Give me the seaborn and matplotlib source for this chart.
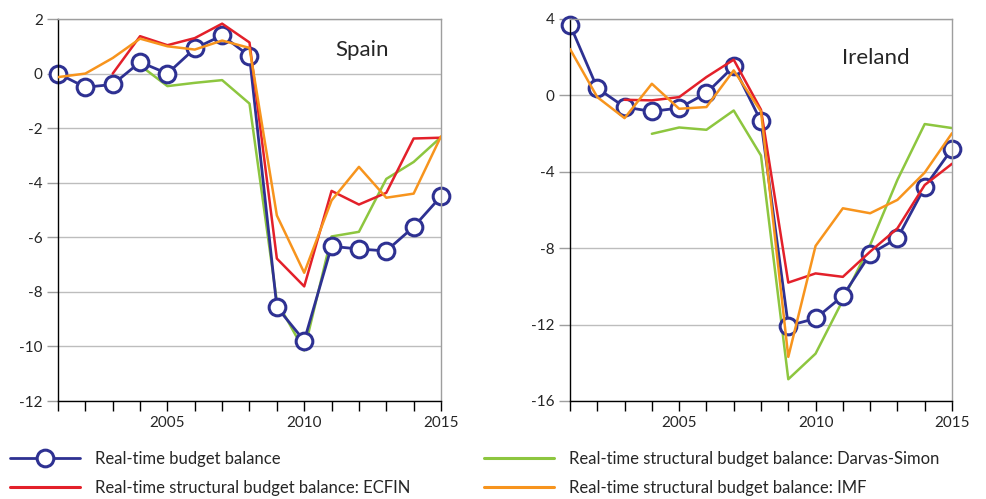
import numpy as np
import pandas as pd
import matplotlib
matplotlib.use("Agg")
import matplotlib.pyplot as plt
import seaborn as sns
from matplotlib.lines import Line2D

# ----------------------------
# Dados
# ----------------------------
years = list(range(2001, 2016))
nan = np.nan

spain_rt = [0.0, -0.5, -0.4, 0.42, 0.0, 0.92, 1.4, 0.64, -8.56, -9.79, -6.33, -6.43, -6.5, -5.62, -4.5]
spain_ecfin = [nan, nan, 0.0, 1.37, 1.04, 1.3, 1.83, 1.14, -6.78, -7.8, -4.3, -4.8, -4.37, -2.38, -2.35]
spain_imf = [-0.13, 0.0, 0.57, 1.28, 1.0, 0.88, 1.21, 0.94, -5.2, -7.3, -4.65, -3.42, -4.55, -4.4, -2.3]
spain_ds = [nan, nan, nan, 0.3, -0.46, -0.34, -0.24, -1.1, -8.35, -10.15, -5.97, -5.8, -3.86, -3.24, -2.33]

ireland_rt = [3.7, 0.38, -0.61, -0.84, -0.66, 0.12, 1.52, -1.36, -12.06, -11.68, -10.5, -8.3, -7.48, -4.8, -2.8]
ireland_ecfin = [nan, nan, -0.23, -0.26, -0.09, 0.96, 1.87, -0.75, -9.8, -9.32, -9.5, -8.18, -6.96, -4.69, -3.58]
ireland_imf = [2.43, -0.09, -1.19, 0.61, -0.7, -0.61, 1.31, -0.84, -13.69, -7.88, -5.91, -6.17, -5.47, -4.04, -1.98]
ireland_ds = [nan, nan, nan, -2.01, -1.68, -1.8, -0.79, -3.15, -14.86, -13.52, -10.72, -7.83, -4.42, -1.5, -1.71]

series_names = [
    "Real-time budget balance",
    "Real-time structural budget balance: ECFIN",
    "Real-time structural budget balance: Darvas-Simon",
    "Real-time structural budget balance: IMF",
]
colors = {
    series_names[0]: "#2E3192",
    series_names[1]: "#E3202A",
    series_names[2]: "#8DC63F",
    series_names[3]: "#F7941D",
}

spain_yticks = [2, 0, -2, -4, -6, -8, -10, -12]
spain_ylabels = ["2", "0", "-2", "-4", "-6", "-8", "-10", "-12"]
ireland_yticks = [4, 0, -4, -8, -12, -16]
ireland_ylabels = ["4", "0", "-4", "-8", "-12", "-16"]
xtick_labels = [2005, 2010, 2015]

# ----------------------------
# Estilo
# ----------------------------
sns.set_style("white")
plt.rcParams["font.family"] = ["Lato", "DejaVu Sans"]

fig = plt.figure(figsize=(9.87, 4.99), dpi=100)
ax_es = fig.add_axes([58 / 987, 1 - 401 / 499, 383 / 987, 382 / 499])
ax_ie = fig.add_axes([570 / 987, 1 - 401 / 499, 382 / 987, 382 / 499])


def draw_panel(ax, rt, ecfin, ds, imf, name, yticks, ylabels, label_xy):
    df = pd.DataFrame({"year": years, series_names[0]: rt, series_names[1]: ecfin,
                       series_names[2]: ds, series_names[3]: imf})
    # linhas estruturais
    for s in series_names[1:]:
        sub = df[["year", s]].dropna()
        sns.lineplot(data=sub, x="year", y=s, ax=ax, color=colors[s], linewidth=1.8,
                     zorder=3 if s != series_names[2] else 2)
    # saldo em tempo real com círculos
    sns.lineplot(data=df, x="year", y=series_names[0], ax=ax, color=colors[series_names[0]],
                 linewidth=2.0, marker="o", markersize=12, markerfacecolor="white",
                 markeredgecolor=colors[series_names[0]], markeredgewidth=2.2, zorder=2.5,
                 clip_on=False)

    ax.set_xlim(2001, 2015)
    ax.set_ylim(yticks[-1], yticks[0])
    ax.set_yticks(yticks)
    ax.set_yticklabels(ylabels)
    ax.set_xticks(years)
    ax.set_xticklabels([str(y) if y in xtick_labels else "" for y in years])
    ax.set_xlabel("")
    ax.set_ylabel("")
    ax.grid(axis="y", color="#BDBDBD", linewidth=1.0)
    ax.set_axisbelow(True)
    for side in ["top", "right"]:
        ax.spines[side].set_color("#9E9E9E")
        ax.spines[side].set_linewidth(1.0)
    for side in ["left", "bottom"]:
        ax.spines[side].set_color("black")
        ax.spines[side].set_linewidth(1.0)
    ax.tick_params(axis="x", direction="out", length=7, width=1, color="black",
                   labelsize=11, pad=4, bottom=True)
    ax.tick_params(axis="y", direction="out", length=8, width=1, color="#9E9E9E",
                   labelsize=11, pad=3, left=True)
    ax.text(label_xy[0], label_xy[1], name, transform=ax.transAxes, fontsize=16,
            ha="left", va="center")


draw_panel(ax_es, spain_rt, spain_ecfin, spain_ds, spain_imf, "Spain",
           spain_yticks, spain_ylabels, (0.723, 0.918))
draw_panel(ax_ie, ireland_rt, ireland_ecfin, ireland_ds, ireland_imf, "Ireland",
           ireland_yticks, ireland_ylabels, (0.713, 0.898))

# ----------------------------
# Legenda
# ----------------------------
handles = [
    Line2D([], [], color=colors[series_names[0]], linewidth=2.0, marker="o", markersize=12,
           markerfacecolor="white", markeredgewidth=2.2),
    Line2D([], [], color=colors[series_names[1]], linewidth=2.2),
    Line2D([], [], color=colors[series_names[2]], linewidth=2.2),
    Line2D([], [], color=colors[series_names[3]], linewidth=2.2),
]
fig.legend(handles, series_names, ncol=2, loc="lower left", bbox_to_anchor=(0.0, -0.014),
           frameon=False, fontsize=12, handlelength=4.2, handletextpad=0.9,
           columnspacing=4.4, labelspacing=0.8, borderaxespad=0.2)

fig.savefig("out.png", dpi=100)
